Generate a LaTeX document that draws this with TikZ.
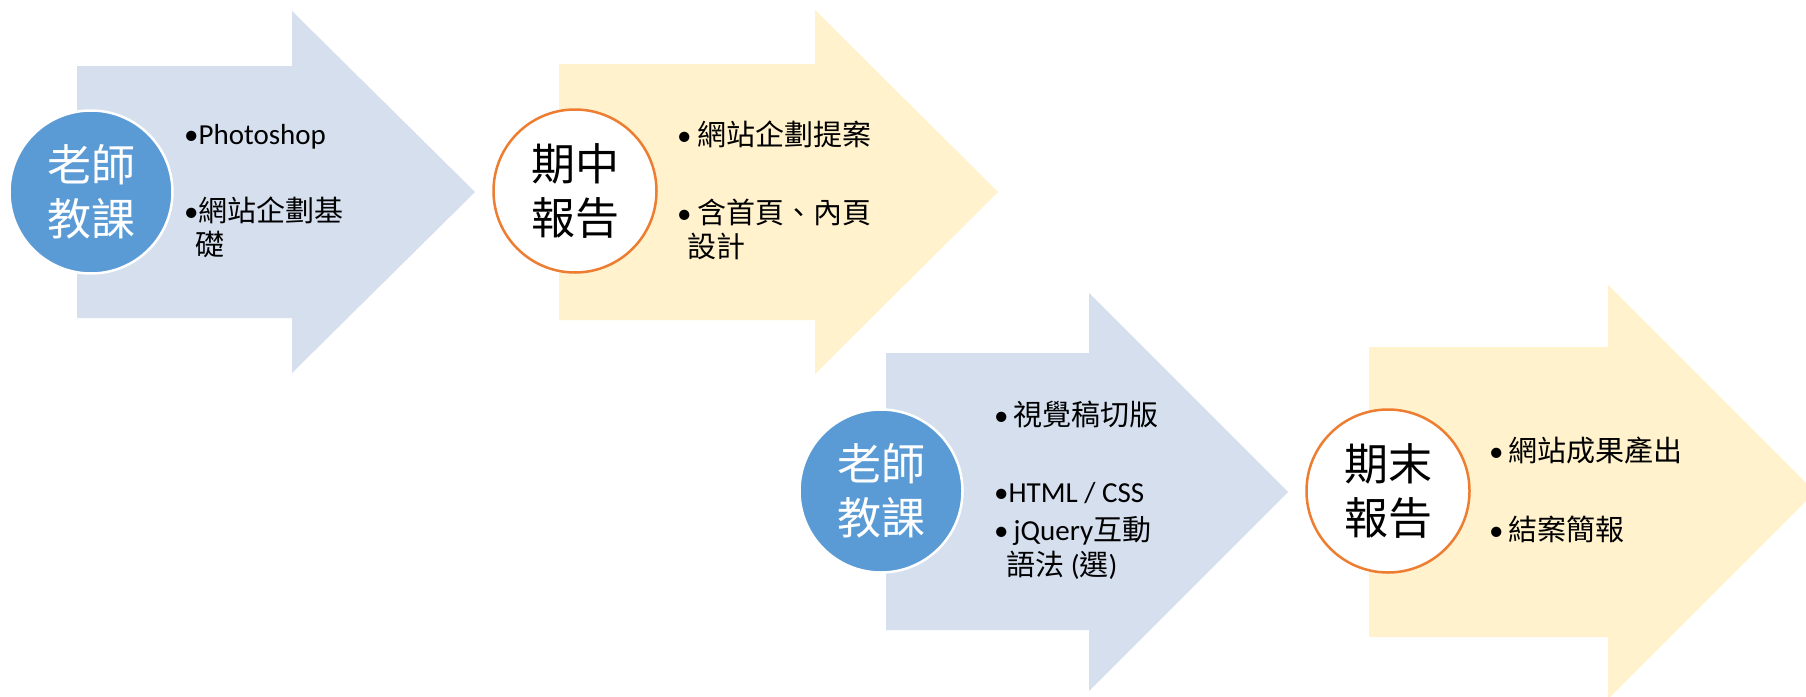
\documentclass[tikz,border=0pt]{standalone}
\usepackage{fontspec}
\setmainfont{Carlito}
\newfontfamily\cjk{Noto Sans CJK TC}
\newfontfamily\lat{Carlito}
\definecolor{arrowblue}{HTML}{D5DFEE}
\definecolor{arrowyellow}{HTML}{FFF2CC}
\definecolor{circblue}{HTML}{5B9BD5}
\definecolor{circorange}{HTML}{ED7D31}
\begin{document}
\begin{tikzpicture}[x=1pt,y=-1pt,
  bluearrow/.style={fill=arrowblue},
  yellowarrow/.style={fill=arrowyellow},
  bluecirc/.style={circle,fill=circblue,draw=white,line width=2.5pt,minimum size=163pt,inner sep=0pt},
  orangecirc/.style={circle,fill=white,draw=circorange,line width=2.5pt,minimum size=163pt,inner sep=0pt},
  circtext/.style={anchor=base,inner sep=0pt,font=\cjk\fontsize{44}{53}\selectfont},
  itemtext/.style={anchor=base west,inner sep=0pt,font=\fontsize{29}{35}\selectfont}]
\useasboundingbox (0,0) rectangle (1806,696);
\fill[white] (0,0) rectangle (1806,696);
% arrows
\fill[bluearrow] (77,66) -- (292,66) -- (292,11) -- (475,192) -- (292,373) -- (292,318) -- (77,318) -- cycle;
\fill[yellowarrow] (559,64) -- (815,64) -- (815,10) -- (998,192) -- (815,374) -- (815,320) -- (559,320) -- cycle;
\fill[bluearrow] (886,353) -- (1089,353) -- (1089,293) -- (1288,492) -- (1089,691) -- (1089,630) -- (886,630) -- cycle;
\begin{scope}
\clip (0,0) rectangle (1806,696);
\fill[yellowarrow] (1369,347) -- (1608,347) -- (1608,285) -- (1815,492) -- (1608,699) -- (1608,637) -- (1369,637) -- cycle;
\end{scope}
% circles
\node[bluecirc] (c1) at (91,192) {};
\node[orangecirc] (c2) at (575,191) {};
\node[bluecirc] (c3) at (881,491) {};
\node[orangecirc] (c4) at (1388,491) {};
\node[circtext,text=white] (c1a) at ([yshift=11pt]c1.center) {老師};
\node[circtext,text=white] (c1b) at ([yshift=-43pt]c1.center) {教課};
\node[circtext] (c2a) at ([yshift=11pt]c2.center) {期中};
\node[circtext] (c2b) at ([yshift=-43pt]c2.center) {報告};
\node[circtext,text=white] (c3a) at ([yshift=11pt]c3.center) {老師};
\node[circtext,text=white] (c3b) at ([yshift=-43pt]c3.center) {教課};
\node[circtext] (c4a) at ([yshift=11pt]c4.center) {期末};
\node[circtext] (c4b) at ([yshift=-43pt]c4.center) {報告};
% arrow 1 items
\node[itemtext] (t1a) at (184,144) {•Photoshop};
\node[itemtext] (t1b) at (184,221) {•{\cjk 網站企劃基}};
\node[itemtext] (t1c) at (195,255) {\cjk 礎};
% arrow 2 items
\node[itemtext] (t2a) at (677,145) {•\hspace{6pt}{\cjk 網站企劃提案}};
\node[itemtext] (t2b) at (677,223) {•\hspace{6pt}{\cjk 含首頁、內頁}};
\node[itemtext] (t2c) at (687,257) {\cjk 設計};
% arrow 3 items
\node[itemtext] (t3a) at (994,425) {•\hspace{5pt}{\cjk 視覺稿切版}};
\node[itemtext] (t3b) at (994,502) {•HTML / CSS};
\node[itemtext] (t3c) at (994,540) {•\hspace{5pt}jQuery{\cjk 互動}};
\node[itemtext] (t3d) at (1006,575) {{\cjk 語法} ({\cjk 選})};
% arrow 4 items
\node[itemtext] (t4a) at (1489,461) {•\hspace{5pt}{\cjk 網站成果產出}};
\node[itemtext] (t4b) at (1489,540) {•\hspace{5pt}{\cjk 結案簡報}};
\end{tikzpicture}
\end{document}
